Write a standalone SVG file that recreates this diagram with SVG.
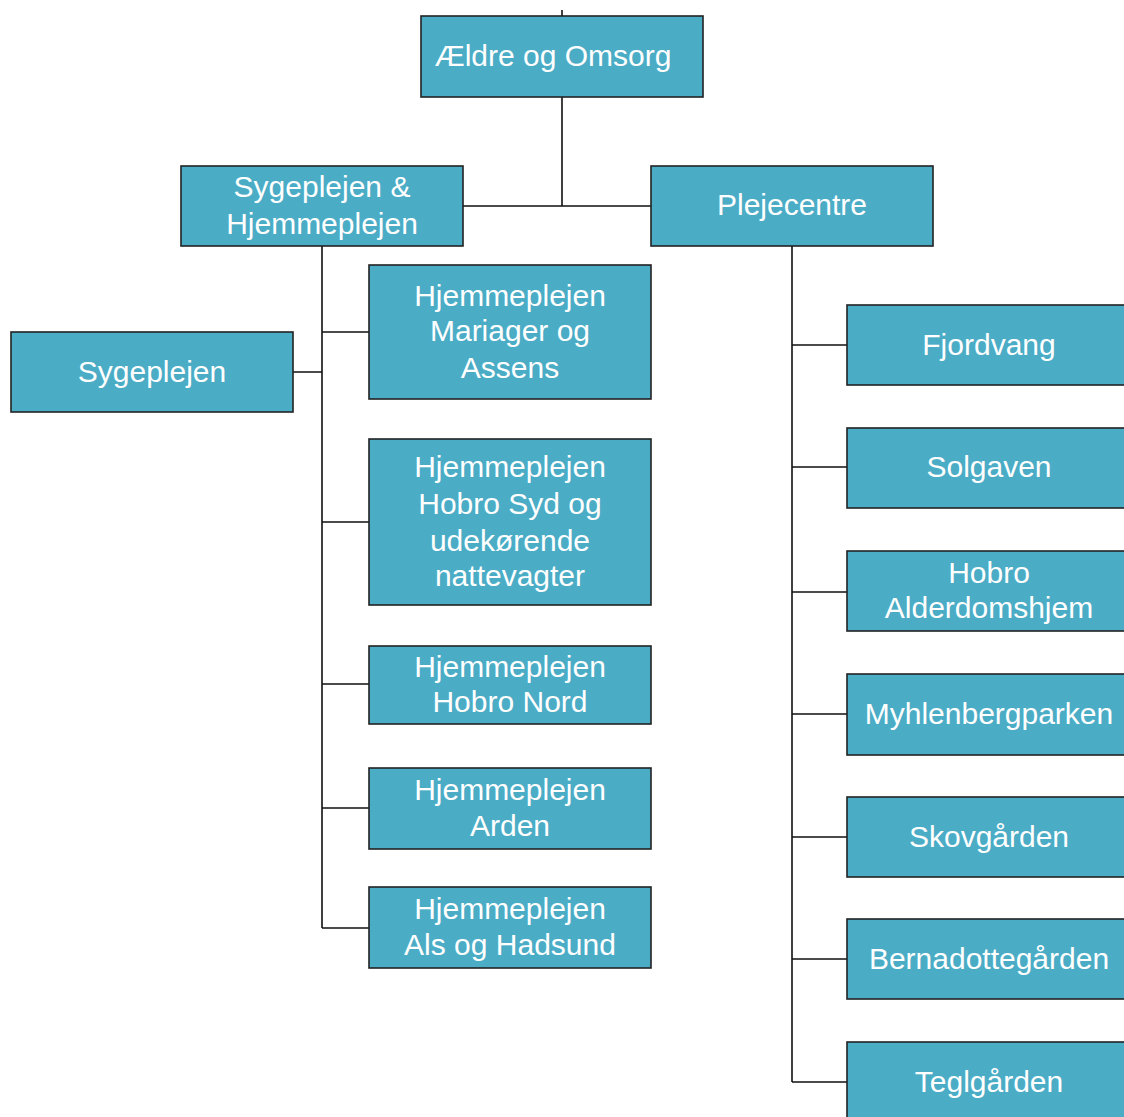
<svg xmlns="http://www.w3.org/2000/svg" width="1124" height="1117" viewBox="0 0 1124 1117">
<style>
.box{fill:#4BACC6;stroke:#222;stroke-width:1.6}
.t{font-family:"Liberation Sans",Arial,sans-serif;font-size:30px;fill:#fff;text-anchor:middle}
.c{fill:none;stroke:#111;stroke-width:1.6}
</style>
<rect width="1124" height="1117" fill="#fff"/>
<g id="connectors">
<path class="c" d="M562,10V16"/>
<path class="c" d="M562,97V206M463,206H651"/>
<path class="c" d="M322,246V928M293,372H322M322,332H369M322,522H369M322,684H369M322,808H369M322,928H369"/>
<path class="c" d="M792,246V1082M792,345H847M792,467H847M792,592H847M792,714H847M792,837H847M792,959H847M792,1082H847"/>
</g>
<g id="n-aeldre"><rect class="box" x="421" y="16" width="282" height="81"/><text class="t" x="553" y="66">Ældre og Omsorg</text></g>
<g id="n-syge-hjemme"><rect class="box" x="181" y="166" width="282" height="80"/><text class="t" x="322" y="197">Sygeplejen &amp;</text><text class="t" x="322" y="234">Hjemmeplejen</text></g>
<g id="n-plejecentre"><rect class="box" x="651" y="166" width="282" height="80"/><text class="t" x="792" y="215">Plejecentre</text></g>
<g id="n-sygeplejen"><rect class="box" x="11" y="332" width="282" height="80"/><text class="t" x="152" y="382">Sygeplejen</text></g>
<g id="n-mariager"><rect class="box" x="369" y="265" width="282" height="134"/><text class="t" x="510" y="306">Hjemmeplejen</text><text class="t" x="510" y="341">Mariager og</text><text class="t" x="510" y="378">Assens</text></g>
<g id="n-hobrosyd"><rect class="box" x="369" y="439" width="282" height="166"/><text class="t" x="510" y="477">Hjemmeplejen</text><text class="t" x="510" y="514">Hobro Syd og</text><text class="t" x="510" y="551">udekørende</text><text class="t" x="510" y="586">nattevagter</text></g>
<g id="n-hobronord"><rect class="box" x="369" y="646" width="282" height="78"/><text class="t" x="510" y="677">Hjemmeplejen</text><text class="t" x="510" y="712">Hobro Nord</text></g>
<g id="n-arden"><rect class="box" x="369" y="768" width="282" height="81"/><text class="t" x="510" y="800">Hjemmeplejen</text><text class="t" x="510" y="836">Arden</text></g>
<g id="n-als"><rect class="box" x="369" y="887" width="282" height="81"/><text class="t" x="510" y="919">Hjemmeplejen</text><text class="t" x="510" y="955">Als og Hadsund</text></g>
<g id="n-fjordvang"><rect class="box" x="847" y="305" width="284" height="80"/><text class="t" x="989" y="355">Fjordvang</text></g>
<g id="n-solgaven"><rect class="box" x="847" y="428" width="284" height="80"/><text class="t" x="989" y="477">Solgaven</text></g>
<g id="n-hobroalder"><rect class="box" x="847" y="551" width="284" height="80"/><text class="t" x="989" y="583">Hobro</text><text class="t" x="989" y="618">Alderdomshjem</text></g>
<g id="n-myhlenberg"><rect class="box" x="847" y="674" width="284" height="81"/><text class="t" x="989" y="724">Myhlenbergparken</text></g>
<g id="n-skovgaarden"><rect class="box" x="847" y="797" width="284" height="80"/><text class="t" x="989" y="847">Skovgården</text></g>
<g id="n-bernadotte"><rect class="box" x="847" y="919" width="284" height="80"/><text class="t" x="989" y="969">Bernadottegården</text></g>
<g id="n-teglgaarden"><rect class="box" x="847" y="1042" width="284" height="90"/><text class="t" x="989" y="1092">Teglgården</text></g>
</svg>
